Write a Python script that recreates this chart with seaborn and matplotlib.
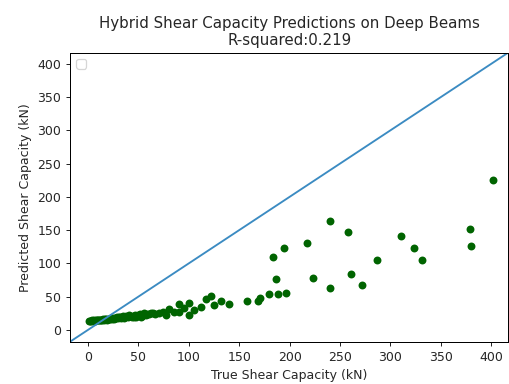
import matplotlib
matplotlib.use("Agg")
import matplotlib.pyplot as plt
import seaborn as sns
import pandas as pd

# True vs. predicted shear capacity (kN) for deep beams
true_kn = [
    1, 2, 3, 4, 5, 6, 7, 8, 9, 10, 11, 12, 13, 14, 15, 16, 17, 18, 19, 20,
    21, 22, 23, 24, 25, 26, 27, 28, 29, 30, 31, 32, 33, 34, 35, 36, 37, 38,
    40, 41, 42, 44, 45, 46, 47, 48, 50, 51, 52, 53, 55, 57, 58, 60, 62, 64,
    66, 70, 74, 77, 80, 85, 90, 90, 95, 100, 100, 105, 112, 117, 122, 125,
    132, 140, 158, 169, 171, 180, 186, 188, 196, 184, 194, 217, 223, 240,
    240, 258, 261, 272, 287, 311, 323, 331, 379, 380, 402,
]
pred_kn = [
    13.5, 13.8, 13.2, 14.0, 13.6, 14.2, 13.8, 14.5, 14.0, 14.8, 14.3, 15.0,
    14.6, 15.2, 15.5, 14.9, 15.8, 16.0, 15.4, 16.3, 16.8, 15.9, 17.0, 16.5,
    17.4, 16.9, 18.0, 17.2, 18.5, 17.6, 18.8, 19.5, 17.9, 19.0, 20.2, 18.4,
    19.8, 21.0, 19.2, 22.0, 20.5, 19.6, 21.5, 20.0, 22.5, 18.8, 23.0, 24.0,
    18.6, 21.0, 26.0, 22.0, 24.5, 23.5, 25.0, 26.0, 24.0, 25.5, 26.5, 22.6,
    31.0, 27.0, 38.5, 27.5, 33.0, 40.0, 22.5, 30.0, 35.0, 46.5, 51.0, 38.0,
    44.0, 39.0, 43.5, 44.0, 48.0, 54.0, 76.5, 54.0, 56.0, 109.0, 122.5,
    130.5, 78.0, 163.0, 62.5, 146.5, 84.0, 68.0, 105.0, 140.5, 122.5,
    105.0, 151.0, 126.5, 225.5,
]

df = pd.DataFrame({"true": true_kn, "pred": pred_kn})

DPI = 90
fig = plt.figure(figsize=(509 / DPI, 384 / DPI), dpi=DPI)
ax = fig.add_axes([0.1375, 0.110, 0.861, 0.753])

sns.scatterplot(data=df, x="true", y="pred", color="darkgreen", s=40,
                linewidth=0, ax=ax)

lims = [-18, 417]
ax.plot(lims, lims, color="#3b8bc2", lw=1.5)
ax.set_xlim(lims)
ax.set_ylim(lims)

ax.set_xticks(range(0, 401, 50))
ax.set_yticks(range(0, 401, 50))
ax.tick_params(colors="#262626", labelcolor="#262626")
ax.set_xlabel("True Shear Capacity (kN)", color="#262626")
ax.set_ylabel("Predicted Shear Capacity (kN)", color="#262626")
ax.set_title("Hybrid Shear Capacity Predictions on Deep Beams\nR-squared:0.219",
             color="#262626")
ax.legend(loc="upper left")

fig.savefig("out.png", dpi=DPI)
